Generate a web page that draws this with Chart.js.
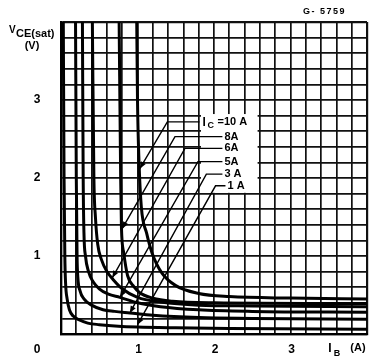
<!DOCTYPE html>
<html lang="en">
<head>
<meta charset="UTF-8">
<title>VCE(sat) vs IB</title>
<style>
  html, body { margin: 0; padding: 0; background: #fff; }
  #wrap { width: 373px; height: 364px; }
</style>
</head>
<body>
<div id="wrap"><canvas id="chart" width="373" height="364"></canvas></div>
<script src="https://cdn.jsdelivr.net/npm/chart.js"></script>
<script>
// collector current of each curve
const seriesNames = ['1 A', '3 A', '5A', '6A', '8A', '10 A'];

// [IB (A), VCE(sat) (V)]
const ic1A  = [[0.03, 4.0], [0.04, 2.0], [0.05, 1.0], [0.06, 0.65], [0.08, 0.45], [0.11, 0.31], [0.16, 0.23], [0.24, 0.18], [0.35, 0.14], [0.5, 0.12], [0.75, 0.1], [1.0, 0.09], [1.5, 0.08], [2.2, 0.07], [4.0, 0.06]];
const ic3A  = [[0.19, 4.0], [0.2, 2.0], [0.21, 1.0], [0.22, 0.73], [0.25, 0.55], [0.3, 0.45], [0.4, 0.37], [0.55, 0.31], [0.7, 0.29], [0.9, 0.27], [1.2, 0.24], [1.8, 0.21], [2.5, 0.2], [4.0, 0.19]];
const ic5A  = [[0.28, 4.0], [0.29, 2.0], [0.3, 1.3], [0.32, 1.0], [0.36, 0.8], [0.42, 0.67], [0.5, 0.58], [0.62, 0.51], [0.77, 0.47], [1.0, 0.4], [1.3, 0.35], [1.8, 0.31], [2.5, 0.29], [4.0, 0.28]];
const ic6A  = [[0.41, 4.0], [0.43, 2.0], [0.45, 1.5], [0.48, 1.15], [0.53, 0.95], [0.6, 0.8], [0.68, 0.7], [0.8, 0.58], [1.0, 0.47], [1.3, 0.41], [1.8, 0.37], [2.5, 0.36], [4.0, 0.35]];
const ic8A  = [[0.76, 4.0], [0.78, 2.0], [0.79, 1.37], [0.82, 1.04], [0.87, 0.75], [0.95, 0.61], [1.03, 0.53], [1.2, 0.46], [1.46, 0.42], [2.0, 0.4], [4.0, 0.39]];
const ic10A = [[0.99, 4.0], [1.0, 3.0], [1.02, 2.2], [1.05, 1.63], [1.12, 1.29], [1.19, 1.04], [1.32, 0.78], [1.5, 0.62], [1.8, 0.52], [2.2, 0.48], [3.0, 0.46], [4.0, 0.45]];

const xTickLabels = [1, 2, 3];
const yTickLabels = [1, 2, 3];

const curves = [ic1A, ic3A, ic5A, ic6A, ic8A, ic10A];

// leader lines from the labels to the curves (data units)
const leaders = [
  { name: '10 A', tip: [1.03, 2.12], corner: [1.39, 2.72], end: 1.81 },
  { name: '8A',   tip: [0.80, 1.35], corner: [1.49, 2.53], end: 2.11 },
  { name: '6A',   tip: [0.67, 0.72], corner: [1.62, 2.38], end: 2.11 },
  { name: '5A',   tip: [0.77, 0.47], corner: [1.79, 2.21], end: 2.11 },
  { name: '3 A',  tip: [0.90, 0.27], corner: [1.90, 2.05], end: 2.11 },
  { name: '1 A',  tip: [1.00, 0.12], corner: [2.02, 1.90], end: 2.15 }
];

const FONT = '"Liberation Sans", Arial, sans-serif';

const annotate = {
  id: 'annotate',
  beforeDatasetsDraw(chart) {
    const { ctx, scales: { x, y } } = chart;
    // label block hides the grid behind it
    ctx.save();
    ctx.fillStyle = '#fff';
    const l = x.getPixelForValue(1.83), r = x.getPixelForValue(2.57);
    const t = y.getPixelForValue(2.82), b = y.getPixelForValue(1.81);
    ctx.fillRect(l, t, r - l, b - t);
    ctx.restore();
  },
  afterDatasetsDraw(chart) {
    const { ctx, scales: { x, y } } = chart;
    ctx.save();
    ctx.strokeStyle = '#000';
    ctx.fillStyle = '#000';
    ctx.lineWidth = 1.4;
    leaders.forEach(ld => {
      const tx = x.getPixelForValue(ld.tip[0]), ty = y.getPixelForValue(ld.tip[1]);
      const cx = x.getPixelForValue(ld.corner[0]), cy = y.getPixelForValue(ld.corner[1]);
      const ex = x.getPixelForValue(ld.end);
      ctx.beginPath();
      ctx.moveTo(ex, cy);
      ctx.lineTo(cx, cy);
      ctx.lineTo(tx, ty);
      ctx.stroke();
      // arrow head
      const ang = Math.atan2(ty - cy, tx - cx);
      ctx.beginPath();
      ctx.moveTo(tx, ty);
      ctx.lineTo(tx - 7 * Math.cos(ang) + 2.8 * Math.sin(ang), ty - 7 * Math.sin(ang) - 2.8 * Math.cos(ang));
      ctx.lineTo(tx - 7 * Math.cos(ang) - 2.8 * Math.sin(ang), ty - 7 * Math.sin(ang) + 2.8 * Math.cos(ang));
      ctx.closePath();
      ctx.fill();

      ctx.textBaseline = 'middle';
      ctx.textAlign = 'left';
      if (ld.name === '10 A') {
        ctx.font = 'bold 12px ' + FONT;
        ctx.fillText('I', ex + 3, cy + 0.5);
        ctx.font = 'bold 9px ' + FONT;
        ctx.fillText('C', ex + 8, cy + 4);
        ctx.font = 'bold 11px ' + FONT;
        ctx.fillText(' =10 A', ex + 15, cy);
      } else {
        ctx.font = 'bold 11px ' + FONT;
        ctx.fillText(ld.name, ex + 2, cy);
      }
    });
    ctx.restore();
  },
  afterDraw(chart) {
    const { ctx, scales: { x, y } } = chart;
    ctx.save();
    ctx.fillStyle = '#000';
    ctx.textBaseline = 'middle';
    ctx.textAlign = 'center';
    ctx.font = 'bold 12px ' + FONT;
    const labelY = y.bottom + 16;
    xTickLabels.forEach(v => ctx.fillText(String(v), x.getPixelForValue(v) + 1, labelY));
    yTickLabels.forEach(v => ctx.fillText(String(v), 37, y.getPixelForValue(v)));
    ctx.fillText('0', 37, labelY);

    // x axis title
    ctx.font = 'bold 12px ' + FONT;
    ctx.fillText('I', 330, labelY - 1);
    ctx.font = 'bold 9px ' + FONT;
    ctx.fillText('B', 337, labelY + 4);
    ctx.font = 'bold 11px ' + FONT;
    ctx.fillText('(A)', 358, labelY - 2);

    // y axis title
    ctx.textAlign = 'left';
    ctx.font = 'bold 10px ' + FONT;
    ctx.fillText('V', 9, 30);
    ctx.font = 'bold 11px ' + FONT;
    ctx.fillText('CE(sat)', 16, 34);
    ctx.textAlign = 'center';
    ctx.fillText('(V)', 32, 46);

    // drawing number
    ctx.font = 'bold 9px ' + FONT;
    ctx.letterSpacing = '1.5px';
    ctx.textAlign = 'left';
    ctx.fillText('G- 5759', 303, 12);
    ctx.restore();
  }
};

const edgeWidth = c => (c.tick && (c.tick.value === 4 || c.tick.value === 0)) ? 2.2 : 1.7;

new Chart(document.getElementById('chart'), {
  type: 'scatter',
  data: {
    datasets: curves.map((pts, i) => ({
      label: seriesNames[i],
      data: pts.map(([px, py]) => ({ x: px, y: py })),
      showLine: true,
      borderColor: '#000',
      borderWidth: 3,
      pointRadius: 0,
      cubicInterpolationMode: 'monotone',
      fill: false
    }))
  },
  options: {
    responsive: false,
    animation: false,
    layout: { padding: { left: 61, top: 22, right: 6, bottom: 30 } },
    plugins: { legend: { display: false }, tooltip: { enabled: false } },
    scales: {
      x: {
        type: 'linear', min: 0, max: 4,
        ticks: { stepSize: 0.2, display: false, autoSkip: false },
        grid: { color: '#111', lineWidth: edgeWidth, drawTicks: false },
        border: { color: '#000', width: 2.2 }
      },
      y: {
        type: 'linear', min: 0, max: 4,
        ticks: { stepSize: 0.2, display: false, autoSkip: false },
        grid: { color: '#111', lineWidth: edgeWidth, drawTicks: false },
        border: { color: '#000', width: 2.2 }
      }
    }
  },
  plugins: [annotate]
});
</script>
</body>
</html>
